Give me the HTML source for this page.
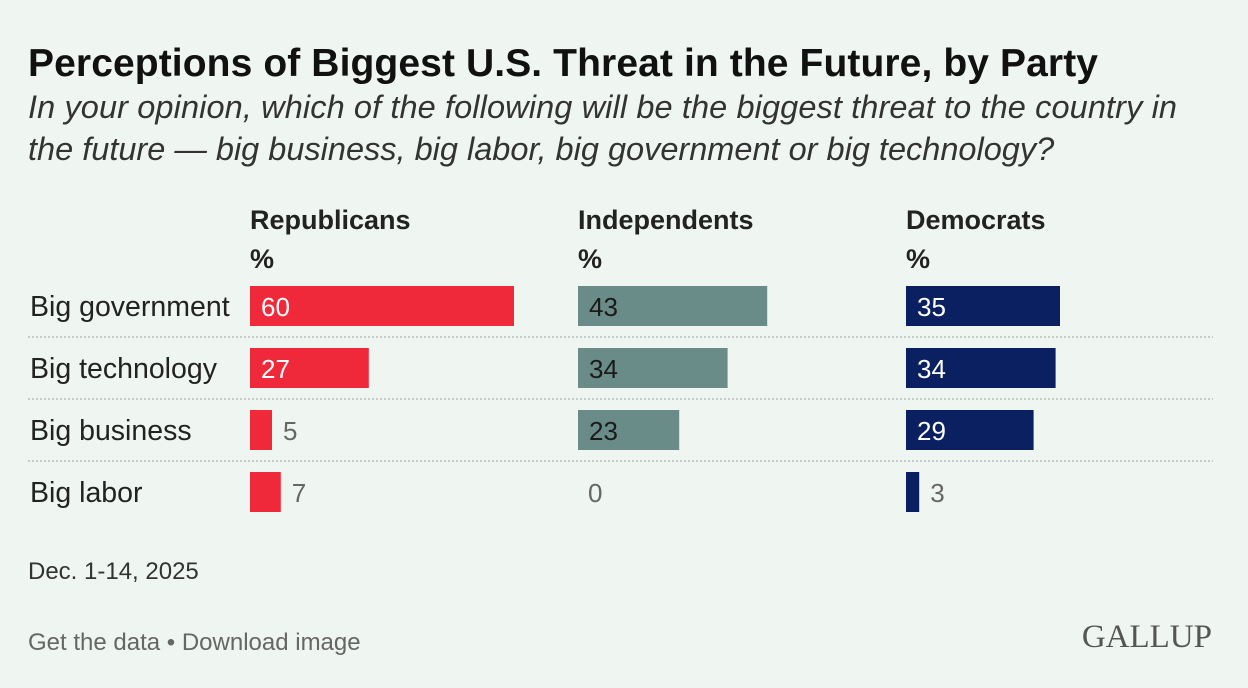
<!DOCTYPE html>
<html><head><meta charset="utf-8"><style>
body{margin:0;background:#eff5f0;}
svg{display:block;font-family:"Liberation Sans",Arial,sans-serif;}
</style></head><body>
<svg width="1248" height="688" viewBox="0 0 1248 688">
<rect width="1248" height="688" fill="#eff5f0"/>
<text x="28" y="76" font-size="39" font-weight="bold" fill="#111" textLength="1070">Perceptions of Biggest U.S. Threat in the Future, by Party</text>
<text x="28" y="118" font-size="32.5" font-style="italic" fill="#333" textLength="1149">In your opinion, which of the following will be the biggest threat to the country in</text>
<text x="28" y="160" font-size="32.5" font-style="italic" fill="#333">the future — big business, big labor, big government or big technology?</text>
<g id="plot"></g>
<text x="28" y="579" font-size="24" fill="#333">Dec. 1-14, 2025</text>
<text x="28" y="650" font-size="24" fill="#666">Get the data • Download image</text>
<text x="1212" y="647" font-size="33" text-anchor="end" font-family="'Liberation Serif',serif" fill="#555">GALLUP</text>
</svg>
<script>
const categories=["Big government","Big technology","Big business","Big labor"];
const groups=["Republicans","Independents","Democrats"];
const republicans=[60,27,5,7];
const independents=[43,34,23,0];
const democrats=[35,34,29,3];
const series=[republicans,independents,democrats];
const colors=["#f0293a","#6a8c88","#0b2060"];
const insideText=["#fff","#1a1a1a","#fff"];
const colX=[250,578,906];
const pxPerUnit=4.4;
const x=v=>v*pxPerUnit;
const rowY=i=>286+i*62;
const ns="http://www.w3.org/2000/svg";
const g=document.getElementById('plot');
function mk(tag,attrs,txt){const e=document.createElementNS(ns,tag);for(const k in attrs)e.setAttribute(k,attrs[k]);if(txt!==undefined)e.textContent=txt;g.appendChild(e);return e;}
groups.forEach((name,j)=>{
  let t=mk('text',{x:colX[j],y:229,'font-size':27,'font-weight':'bold',fill:'#222'},name);
  
  
  t=mk('text',{x:colX[j],y:268,'font-size':27,'font-weight':'bold',fill:'#222'},'%');
  
  
});
categories.forEach((c,i)=>{
  const y=rowY(i);
  let t=mk('text',{x:30,y:y+30,'font-size':28.5,fill:'#222'},c);
  
  
  if(i<categories.length-1){
    const l=mk('line',{x1:28,x2:1213,y1:y+51,y2:y+51,stroke:'#bbb','stroke-width':1.5,'stroke-dasharray':'2,2'});
    
    
  }
  series.forEach((s,j)=>{
    const v=s[i],w=x(v);
    if(w>0){
      const r=mk('rect',{x:colX[j],y:y,width:w,height:40,fill:colors[j]});
      
      
    }
    const inside=w>60;
    const tx=inside?colX[j]+11:colX[j]+w+(w>0?11:10);
    const vt=mk('text',{x:tx,y:y+30,'font-size':26,fill:inside?insideText[j]:'#666'},String(v));
    
    
  });
});
</script>
</body></html>
